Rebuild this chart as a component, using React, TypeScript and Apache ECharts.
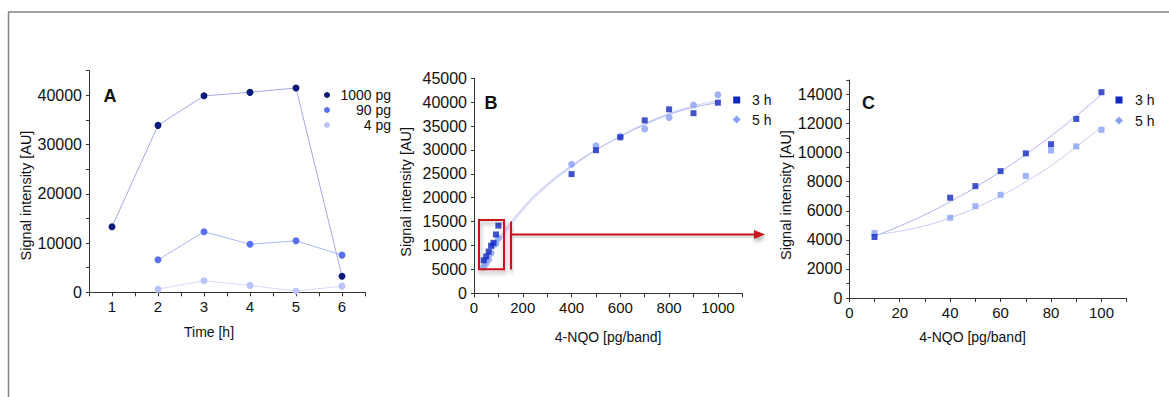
import React, { useEffect, useRef } from "react";
import * as echarts from "echarts";

// ---- Panel A: signal vs time ----
const timeH = [1, 2, 3, 4, 5, 6];
const a1000pg = [13300, 33900, 39900, 40600, 41500, 3250];
const a90pg = [null, 6600, 12300, 9750, 10450, 7550];
const a4pg = [null, 650, 2350, 1400, 250, 1250];

// ---- Panels B / C: signal vs 4-NQO dose ----
const doseHigh = [400, 500, 600, 700, 800, 900, 1000];
const high3h = [24950, 29950, 32650, 36200, 38500, 37700, 39900];
const high5h = [27000, 30900, 32850, 34400, 36800, 39400, 41550];
const doseLow = [10, 40, 50, 60, 70, 80, 90, 100];
const low3h = [4200, 6900, 7700, 8730, 9950, 10580, 12320, 14160];
const low5h = [4470, 5520, 6320, 7100, 8400, 10150, 10430, 11570];

// fitted curves
const fitBx = [40, 100, 200, 300, 400, 500, 600, 700, 800, 900, 1000];
const fitB3h = [6600, 11300, 17800, 22800, 26700, 30000, 32800, 35300, 37400, 38900, 39900];
const fitB5h = [5900, 10600, 17300, 22400, 26400, 29900, 32900, 35500, 37600, 39200, 40300];
const fitCx = [10, 25, 40, 55, 70, 85, 100];
const fitC3h = [4250, 5330, 6630, 8150, 9880, 11830, 14000];
const fitC5h = [4350, 4770, 5520, 6600, 8000, 9740, 11800];

const legendA = ["1000 pg", "90 pg", "4 pg"];
const legendBC = ["3 h", "5 h"];

const FONT = "'Liberation Sans', Arial, sans-serif";
const TXT = "#111111";
const AXIS = "#333333";
const C_NAVY = "#0c1a7c";
const C_MID = "#5a70f2";
const C_PALE = "#b9c5fc";
const C_3H = "#1028c0";
const C_5H = "#8aa0f6";
const C_FIT = "#aab2ee";
const RED = "#c8161c";

const zip = (xs: number[], ys: (number | null)[]) =>
  xs.map((x, i) => [x, ys[i]]).filter((p) => p[1] !== null);

function axisBase(grid: number, vertical: boolean) {
  return {
    type: "value" as const,
    gridIndex: grid,
    splitLine: { show: false },
    axisLine: { show: true, onZero: false, lineStyle: { color: AXIS, width: 1 } },
    axisTick: { show: true, length: vertical ? 3 : 4, lineStyle: { color: AXIS } },
    axisLabel: { color: TXT, fontSize: vertical ? 16 : 15, fontFamily: FONT, margin: 7 },
    nameTextStyle: { color: TXT, fontSize: vertical ? 14.5 : 14, fontFamily: FONT },
    nameLocation: "middle" as const,
  };
}

export default function App() {
  const ref = useRef<HTMLDivElement>(null);
  useEffect(() => {
    if (!ref.current) return;
    const chart = echarts.init(ref.current, null, { renderer: "svg" });
    const every = (step: number) => (v: number) =>
      Math.abs(v / step - Math.round(v / step)) < 1e-9 ? String(v) : "";

    const legendItemsA = legendA.map((t, i) => {
      const y = 95 + i * 15;
      const col = [C_NAVY, C_MID, C_PALE][i];
      return [
        { type: "circle", shape: { cx: 327, cy: y, r: 3 }, style: { fill: col } },
        {
          type: "text",
          x: 391,
          y,
          style: { text: t, fill: TXT, fontSize: 14, fontFamily: FONT, align: "right", verticalAlign: "middle" },
        },
      ];
    }).flat();

    const legendBCItems = (mx: number, tx: number, y0: number, dy: number) =>
      legendBC.map((t, i) => {
        const y = y0 + i * dy;
        const marker =
          i === 0
            ? { type: "rect", shape: { x: mx - 3.5, y: y - 3.5, width: 7, height: 7 }, style: { fill: C_3H } }
            : {
                type: "polygon",
                shape: { points: [[mx, y - 4], [mx + 4, y], [mx, y + 4], [mx - 4, y]] },
                style: { fill: C_5H },
              };
        return [
          marker,
          {
            type: "text",
            x: tx,
            y,
            style: { text: t, fill: TXT, fontSize: 14, fontFamily: FONT, align: "left", verticalAlign: "middle" },
          },
        ];
      }).flat();

    const panelLetter = (t: string, x: number, y: number) => ({
      type: "text",
      x,
      y,
      style: { text: t, fill: "#111", fontSize: 18, fontWeight: "bold", fontFamily: FONT, align: "center", verticalAlign: "middle" },
    });

    const shadow = { shadowBlur: 4, shadowColor: "rgba(0,0,0,0.35)", shadowOffsetY: 3, shadowOffsetX: 1 };

    chart.setOption({
      animation: false,
      backgroundColor: "#ffffff",
      grid: [
        { left: 89, top: 70.7, width: 276, height: 221.6 },
        { left: 474, top: 78.3, width: 268.3, height: 215 },
        { left: 849.3, top: 80, width: 277.4, height: 218 },
      ],
      xAxis: [
        {
          ...axisBase(0, false),
          min: 0.5,
          max: 6.5,
          interval: 0.5,
          axisLabel: { ...axisBase(0, false).axisLabel, formatter: every(1) },
          name: "Time [h]",
          nameGap: 33,
          nameTextStyle: { ...axisBase(0, false).nameTextStyle, padding: [0, 36, 0, 0] },
        },
        {
          ...axisBase(1, false),
          min: 0,
          max: 1100,
          interval: 100,
          axisLabel: { ...axisBase(1, false).axisLabel, formatter: every(200) },
          name: "4-NQO [pg/band]",
          nameGap: 37,
        },
        {
          ...axisBase(2, false),
          min: 0,
          max: 110,
          interval: 10,
          axisLabel: { ...axisBase(2, false).axisLabel, formatter: every(20) },
          name: "4-NQO [pg/band]",
          nameGap: 32,
          nameTextStyle: { ...axisBase(2, false).nameTextStyle, padding: [0, 31, 0, 0] },
        },
      ],
      yAxis: [
        {
          ...axisBase(0, true),
          min: 0,
          max: 45000,
          interval: 5000,
          axisLabel: { ...axisBase(0, true).axisLabel, formatter: every(10000) },
          name: "Signal intensity [AU]",
          nameGap: 56,
          nameTextStyle: { ...axisBase(0, true).nameTextStyle, padding: [0, 28, 0, 0] },
        },
        {
          ...axisBase(1, true),
          min: 0,
          max: 45000,
          interval: 5000,
          axisLabel: { ...axisBase(1, true).axisLabel, formatter: every(5000) },
          name: "Signal intensity [AU]",
          nameGap: 61,
          nameTextStyle: { ...axisBase(1, true).nameTextStyle, padding: [0, 12, 0, 0] },
        },
        {
          ...axisBase(2, true),
          min: 0,
          max: 15000,
          interval: 1000,
          axisLabel: { ...axisBase(2, true).axisLabel, formatter: every(2000) },
          name: "Signal intensity [AU]",
          nameGap: 55,
          nameTextStyle: { ...axisBase(2, true).nameTextStyle, padding: [0, 12, 0, 0] },
        },
      ],
      series: [
        // Panel A
        {
          name: "1000 pg", type: "line", xAxisIndex: 0, yAxisIndex: 0, data: zip(timeH, a1000pg),
          symbol: "circle", symbolSize: 7, itemStyle: { color: C_NAVY }, lineStyle: { color: "#a3aae6", width: 1 }, z: 5,
        },
        {
          name: "90 pg", type: "line", xAxisIndex: 0, yAxisIndex: 0, data: zip(timeH, a90pg),
          symbol: "circle", symbolSize: 7, itemStyle: { color: C_MID }, lineStyle: { color: "#a9b6f6", width: 1 }, z: 4,
        },
        {
          name: "4 pg", type: "line", xAxisIndex: 0, yAxisIndex: 0, data: zip(timeH, a4pg),
          symbol: "circle", symbolSize: 7, itemStyle: { color: C_PALE }, lineStyle: { color: "#d3dafd", width: 1 }, z: 3,
        },
        // Panel B fits
        {
          name: "fit B 3 h", type: "line", xAxisIndex: 1, yAxisIndex: 1, data: zip(fitBx, fitB3h),
          smooth: true, symbol: "none", lineStyle: { color: C_FIT, width: 1 }, z: 2,
        },
        {
          name: "fit B 5 h", type: "line", xAxisIndex: 1, yAxisIndex: 1, data: zip(fitBx, fitB5h),
          smooth: true, symbol: "none", lineStyle: { color: "#c4cbf6", width: 1 }, z: 2,
        },
        // Panel B points
        {
          name: "5 h", type: "scatter", xAxisIndex: 1, yAxisIndex: 1,
          data: [...zip(doseLow.slice(1), low5h.slice(1)), ...zip(doseHigh, high5h)],
          symbol: "circle", symbolSize: 7, itemStyle: { color: C_5H }, z: 4,
        },
        {
          name: "3 h", type: "scatter", xAxisIndex: 1, yAxisIndex: 1,
          data: [...zip(doseLow.slice(1), low3h.slice(1)), ...zip(doseHigh, high3h)],
          symbol: "rect", symbolSize: 6, itemStyle: { color: C_3H }, z: 5,
        },
        // Panel C fits
        {
          name: "fit C 3 h", type: "line", xAxisIndex: 2, yAxisIndex: 2, data: zip(fitCx, fitC3h),
          smooth: true, symbol: "none", lineStyle: { color: C_FIT, width: 1 }, z: 2,
        },
        {
          name: "fit C 5 h", type: "line", xAxisIndex: 2, yAxisIndex: 2, data: zip(fitCx, fitC5h),
          smooth: true, symbol: "none", lineStyle: { color: "#c4cbf6", width: 1 }, z: 2,
        },
        // Panel C points
        {
          name: "5 h C", type: "scatter", xAxisIndex: 2, yAxisIndex: 2, data: zip(doseLow, low5h),
          symbol: "rect", symbolSize: 6, itemStyle: { color: C_5H }, z: 4,
        },
        {
          name: "3 h C", type: "scatter", xAxisIndex: 2, yAxisIndex: 2, data: zip(doseLow, low3h),
          symbol: "rect", symbolSize: 6, itemStyle: { color: C_3H }, z: 5,
        },
      ],
      graphic: [
        // outer frame
        { type: "line", shape: { x1: 8, y1: 12, x2: 1169, y2: 12 }, style: { stroke: "#858585", lineWidth: 1.5 } },
        { type: "line", shape: { x1: 8.5, y1: 12, x2: 8.5, y2: 397 }, style: { stroke: "#858585", lineWidth: 1.5 } },
        panelLetter("A", 110, 96),
        panelLetter("B", 491, 103),
        panelLetter("C", 868.5, 102.5),
        ...legendItemsA,
        ...legendBCItems(736.7, 752, 100, 19.5),
        ...legendBCItems(1119, 1135, 100, 20.5),
        // zoom box and arrow
        {
          type: "rect", z: 10,
          shape: { x: 479, y: 220, width: 25, height: 49.3 },
          style: { fill: "none", stroke: RED, lineWidth: 2, ...shadow },
        },
        {
          type: "rect", z: 10,
          shape: { x: 510, y: 221.5, width: 2, height: 48 },
          style: { fill: RED, ...shadow },
        },
        {
          type: "rect", z: 10,
          shape: { x: 511, y: 233.5, width: 245, height: 2 },
          style: { fill: RED, ...shadow },
        },
        {
          type: "polygon", z: 10,
          shape: { points: [[754, 230], [765, 234.5], [754, 239]] },
          style: { fill: RED, ...shadow },
        },
      ],
    });
    return () => chart.dispose();
  }, []);
  return (
    <div
      ref={ref}
      style={{ position: "absolute", left: 0, top: 0, width: 1169, height: 397, background: "#fff" }}
    />
  );
}
